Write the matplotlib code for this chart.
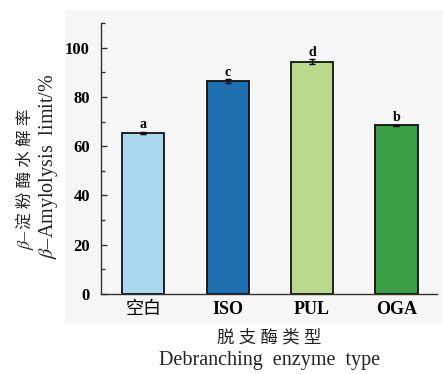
import matplotlib
matplotlib.use("Agg")
import matplotlib.pyplot as plt
from matplotlib.patches import Rectangle
from matplotlib.ticker import MultipleLocator

plt.rcParams['mathtext.fontset'] = 'stix'

enzymes = ["空白", "ISO", "PUL", "OGA"]
limit = [65.4, 86.3, 94.2, 68.4]
err = [0.5, 0.8, 1.0, 0.4]
letters = ["a", "c", "d", "b"]
colors = ["#aad8ef", "#1f70b1", "#badb8c", "#3c9f46"]

serif = ['Liberation Serif', 'Noto Sans CJK SC']
W, H = 443, 374

fig = plt.figure(figsize=(W / 100, H / 100), dpi=100)
# light grey panel behind the plot
fig.patches.append(Rectangle((65 / W, (H - 323) / H), (W - 65) / W, 313 / H,
                             transform=fig.transFigure, facecolor='#f6f6f6',
                             edgecolor='none', zorder=-5))

ax = fig.add_axes([101 / W, (H - 294) / H, 336 / W, 271 / H])
ax.set_facecolor('none')
ax.set_zorder(2)

x = range(len(enzymes))
ax.bar(x, limit, width=0.5, color=colors, edgecolor='#111111', linewidth=1.3, zorder=2)
ax.errorbar(x, limit, yerr=err, fmt='none', ecolor='black', elinewidth=1.0,
            capsize=2.5, capthick=1.0, zorder=3)
for i, (v, e, s) in enumerate(zip(limit, err, letters)):
    ax.text(i, v + e + 0.3, s, ha='center', va='bottom', fontsize=10,
            fontweight='bold', family=serif)

ax.set_xlim(-0.5, 3.48)
ax.set_ylim(0, 110)
ax.yaxis.set_major_locator(MultipleLocator(20))
ax.yaxis.set_minor_locator(MultipleLocator(10))
ax.tick_params(axis='y', which='major', direction='in', length=4, width=1,
               color='#333333', pad=8)
ax.tick_params(axis='y', which='minor', direction='in', length=3, width=1,
               color='#333333')
ax.tick_params(axis='x', length=0, pad=5)
for lbl in ax.get_yticklabels():
    lbl.set_family(serif)
    lbl.set_fontweight('bold')
    lbl.set_fontsize(12)
ax.set_xticks(list(x))
ax.set_xticklabels(enzymes)
for lbl in ax.get_xticklabels():
    lbl.set_family(serif)
    lbl.set_fontsize(13)
    if lbl.get_text() != "空白":
        lbl.set_fontweight('bold')

for side in ['top', 'right']:
    ax.spines[side].set_visible(False)
for side in ['left', 'bottom']:
    ax.spines[side].set_color('#333333')
    ax.spines[side].set_linewidth(1.0)

# axis titles, Chinese over English; the italic beta is set apart from the CJK text
txt = dict(family=serif, color='#222222')
fig.text(26 / W, 1 - 229 / H, r"$\beta$–", rotation=90, ha='center', va='top',
         fontsize=13, **txt)
fig.text(26 / W, 1 - 229 / H, "淀 粉 酶 水 解 率", rotation=90, ha='center',
         va='bottom', fontsize=12, **txt)
fig.text(49 / W, 1 - 166 / H, r"$\beta$–Amylolysis  limit/%", rotation=90,
         ha='center', va='center', fontsize=14.5, **txt)
fig.text(269 / W, 1 - 338 / H, "脱 支 酶 类 型", ha='center', va='center',
         fontsize=12.5, **txt)
fig.text(270 / W, 1 - 361 / H, "Debranching  enzyme  type", ha='center',
         va='center', fontsize=14.5, **txt)

fig.savefig("out.png", dpi=100)
